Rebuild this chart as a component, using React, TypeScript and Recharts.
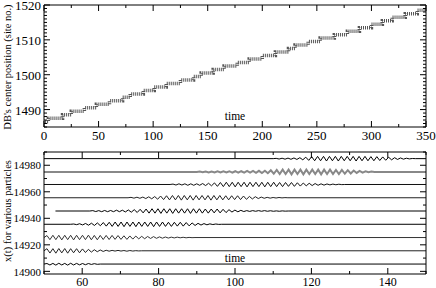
import React from 'react';
import { LineChart, Line, XAxis, YAxis } from 'recharts';

// top panel: DB centre, one plateau per site (the hatched band sits between n and n+1)
const dbStepTimes = [1, 4, 17, 25, 37, 48, 60, 72, 79, 91, 101, 112, 125, 137, 144, 155, 165, 177, 188, 200, 212, 224, 230, 242, 253, 266, 278, 289, 300, 310, 319, 331, 342, 350];
const dbSites = [1486.5, 1487.5, 1488.5, 1489.5, 1490.5, 1491.5, 1492.5, 1493.5, 1494.5, 1495.5, 1496.5, 1497.5, 1498.5, 1499.5, 1500.5, 1501.5, 1502.5, 1503.5, 1504.5, 1505.5, 1506.5, 1507.5, 1508.5, 1509.5, 1510.5, 1511.5, 1512.5, 1513.5, 1514.5, 1515.5, 1516.5, 1517.5, 1518.5, 1518.5];

const topXTicks = [0, 25, 50, 75, 100, 125, 150, 175, 200, 225, 250, 275, 300, 325, 350];
const topYTicks = [1485, 1486, 1487, 1488, 1489, 1490, 1491, 1492, 1493, 1494, 1495, 1496, 1497, 1498, 1499, 1500, 1501, 1502, 1503, 1504, 1505, 1506, 1507, 1508, 1509, 1510, 1511, 1512, 1513, 1514, 1515, 1516, 1517, 1518, 1519, 1520];

// bottom panel: rest positions of the particles and the oscillation packets
const particleBase = [14905.5, 14915.5, 14925.5, 14935.5, 14945.5, 14955.5, 14965.5, 14975, 14985];
const traceFrom = [50, 50, 50, 50, 53, 50, 50, 50, 50];
const traceTo = [150, 150, 150, 150, 150, 150, 150, 150, 150];
const packetStart = [50, 50, 50, 57, 62, 72, 83, 90, 110];
const halfPeriod = 0.775;

const amp1 = [0.4, 0.7, 0.5, 0.8, 0.6, 0.7, 0.5, 0.8, 0.6, 0.7, 0.5, 0.6, 0.4, 0.5, 0.4, 0.3, 0.3, 0.2];
const amp2 = [1.6, 1.7, 1.6, 1.8, 1.7, 1.6, 1.7, 1.8, 1.6, 1.5, 1.6, 1.5, 1.4, 1.3, 1.1, 1.0, 0.8, 0.7, 0.6, 0.5, 0.4, 0.3, 0.3, 0.2, 0.3, 0.2, 0.2, 0.3, 0.2, 0.2, 0.1, 0.1];
const amp3 = [1.5, 1.6, 1.7, 1.6, 1.7, 1.8, 1.7, 1.6, 1.7, 1.8, 1.7, 1.6, 1.7, 1.6, 1.8, 1.7, 1.6, 1.7, 1.6, 1.5, 1.6, 1.5, 1.6, 1.4, 1.5, 1.4, 1.3, 1.4, 1.2, 1.2,
  1.1, 1.0, 0.9, 0.9, 0.8, 0.7, 0.7, 0.6, 0.5, 0.5, 0.4, 0.4, 0.3, 0.3, 0.3, 0.2, 0.2, 0.2, 0.1, 0.1];
const amp4 = [0.2, 0.3, 0.4, 0.5, 0.6, 0.7, 0.8, 0.9, 1.0, 1.1, 1.3, 1.4,
  1.5, 1.6, 1.7, 1.6, 1.7, 1.8, 1.7, 1.6, 1.7, 1.8, 1.7, 1.6, 1.7, 1.6, 1.7, 1.8, 1.7, 1.6, 1.7, 1.6, 1.5, 1.6, 1.5, 1.4, 1.5, 1.4, 1.3, 1.2,
  1.0, 0.9, 0.7, 0.6, 0.5, 0.4, 0.3, 0.2, 0.2, 0.1];
const amp5 = [0.3, 0.4, 0.3, 0.5, 0.4, 0.5, 0.4, 0.5, 0.6, 0.5, 0.6, 0.7, 0.8, 0.9, 1.0, 1.1, 1.3, 1.4,
  1.5, 1.6, 1.7, 1.6, 1.7, 1.8, 1.7, 1.6, 1.7, 1.8, 1.7, 1.6, 1.7, 1.6, 1.7, 1.8, 1.7, 1.6, 1.7, 1.6, 1.5, 1.6, 1.5, 1.4, 1.5, 1.4, 1.3, 1.2,
  1.0, 0.8, 0.7, 0.6, 0.5, 0.4, 0.3, 0.3, 0.3, 0.2, 0.3, 0.2, 0.3, 0.2, 0.2, 0.2, 0.1, 0.2, 0.1, 0.1];
const amp6 = [0.3, 0.3, 0.4, 0.4, 0.5, 0.6, 0.7, 0.8, 0.9, 1.1,
  1.3, 1.4, 1.5, 1.6, 1.7, 1.6, 1.7, 1.8, 1.7, 1.6, 1.7, 1.8, 1.7, 1.6, 1.7, 1.6, 1.7, 1.8, 1.7, 1.6, 1.7, 1.6, 1.5, 1.6, 1.5, 1.4, 1.5, 1.4, 1.3, 1.2,
  1.0, 0.9, 0.8, 0.6, 0.5, 0.4, 0.3, 0.3, 0.2, 0.2, 0.2, 0.1, 0.1];
const amp7 = [0.3, 0.4, 0.5, 0.4, 0.5, 0.6, 0.5, 0.6, 0.5, 0.6, 0.7, 0.8, 0.9, 1.0, 1.2, 1.4,
  1.5, 1.6, 1.7, 1.6, 1.7, 1.8, 1.7, 1.6, 1.7, 1.8, 1.7, 1.6, 1.7, 1.6, 1.7, 1.8, 1.7, 1.6, 1.7, 1.6, 1.5, 1.6, 1.5, 1.4, 1.5, 1.4, 1.3, 1.2,
  1.1, 1.0, 0.9, 0.8, 0.7, 0.6, 0.5, 0.5, 0.4, 0.3, 0.3, 0.2, 0.2, 0.1];
const amp8 = [0.2, 0.3, 0.3, 0.4, 0.3, 0.4, 0.5, 0.4, 0.5, 0.4, 0.5, 0.6, 0.5, 0.6, 0.5, 0.6, 0.7, 0.6, 0.7, 0.7, 0.8, 0.8, 0.9, 1.0, 1.2, 1.4,
  1.5, 1.6, 1.7, 1.6, 1.7, 1.8, 1.7, 1.6, 1.7, 1.8, 1.7, 1.6, 1.7, 1.6, 1.7, 1.8, 1.7, 1.6, 1.7, 1.6, 1.5, 1.6, 1.5, 1.4, 1.3, 1.2,
  1.0, 0.8, 0.7, 0.5, 0.4, 0.3, 0.2, 0.1];
const amp9 = [0.2, 0.3, 0.3, 0.4, 0.4, 0.5, 0.5, 0.6, 0.7, 0.9,
  1.1, 1.3, 1.5, 1.6, 1.7, 1.6, 1.7, 1.8, 1.7, 1.6, 1.7, 1.8, 1.7, 1.6, 1.7, 1.6, 1.7, 1.8, 1.7, 1.6, 1.7, 1.6, 1.5, 1.6, 1.5, 1.4, 1.3,
  1.2, 1.0, 0.9, 0.7, 0.6, 0.5, 0.4, 0.3, 0.2, 0.1];
const particleAmps = [amp1, amp2, amp3, amp4, amp5, amp6, amp7, amp8, amp9];
const particleColor = ['#000', '#222', '#333', '#000', '#000', '#222', '#111', '#888', '#000'];

const botXTicks = [50, 60, 70, 80, 90, 100, 110, 120, 130, 140, 150];
const botYTicks = [14900, 14910, 14920, 14930, 14940, 14950, 14960, 14970, 14980, 14990];

const FONT = "'Liberation Serif', 'Times New Roman', serif";

const dbData = dbStepTimes.map((t, i) => ({ t, pos: dbSites[i] }));

const particleSeries = (k: number) => {
  const base = particleBase[k];
  const t0 = packetStart[k];
  const amps = particleAmps[k];
  const pts = [{ t: traceFrom[k], y: base }, { t: t0, y: base }];
  amps.forEach((a, i) => pts.push({ t: t0 + (i + 1) * halfPeriod, y: base + (i % 2 === 0 ? a : -a) }));
  pts.push({ t: t0 + (amps.length + 1) * halfPeriod, y: base });
  pts.push({ t: traceTo[k], y: base });
  return pts;
};

type Side = 'bottom' | 'top' | 'left' | 'right';

// inward ticks, grace style; labels only on bottom/left
const makeTick = (side: Side, every: number, labelled: boolean, fontSize: number) => (props: any) => {
  const { x, y, payload } = props;
  const v = payload.value;
  const major = Math.abs(v / every - Math.round(v / every)) < 1e-6;
  const len = major ? 6 : 3;
  let x2 = x, y2 = y;
  if (side === 'bottom') y2 = y - len;
  if (side === 'top') y2 = y + len;
  if (side === 'left') x2 = x + len;
  if (side === 'right') x2 = x - len;
  return (
    <g>
      <line x1={x} y1={y} x2={x2} y2={y2} stroke="#000" strokeWidth={1} />
      {labelled && major && side === 'bottom' && (
        <text x={x} y={y + fontSize} textAnchor="middle" fontSize={fontSize} fontFamily={FONT} fill="#000">{v}</text>
      )}
      {labelled && major && side === 'left' && (
        <text x={x - 3} y={y + fontSize * 0.38} textAnchor="end" fontSize={fontSize} fontFamily={FONT} fill="#000">{v}</text>
      )}
    </g>
  );
};

const axisCommon = { tickSize: 0, tickMargin: 0, tickLine: false, interval: 0 as const, allowDataOverflow: true, axisLine: { stroke: '#000', strokeWidth: 1 } };

export default function App() {
  return (
    <div style={{ position: 'absolute', left: 0, top: 0, width: 436, height: 288, background: '#fff' }}>
      <LineChart width={436} height={144} data={dbData} margin={{ top: 0, right: 0, bottom: 0, left: 0 }}>
        <XAxis xAxisId="b" dataKey="t" type="number" domain={[0, 350]} ticks={topXTicks} height={17} {...axisCommon} tick={makeTick('bottom', 50, true, 13)} />
        <XAxis xAxisId="t" orientation="top" dataKey="t" type="number" domain={[0, 350]} ticks={topXTicks} height={5} {...axisCommon} tick={makeTick('top', 50, false, 13)} />
        <YAxis yAxisId="l" type="number" domain={[1485, 1520]} ticks={topYTicks} width={44} {...axisCommon} tick={makeTick('left', 10, true, 13)} />
        <YAxis yAxisId="r" orientation="right" type="number" domain={[1485, 1520]} ticks={topYTicks} width={10} {...axisCommon} tick={makeTick('right', 10, false, 13)} />
        <Line xAxisId="b" yAxisId="l" type="stepAfter" dataKey="pos" stroke="#555" strokeWidth={3.5} strokeDasharray="1 1" dot={false} isAnimationActive={false} />
      </LineChart>
      <LineChart width={436} height={144} margin={{ top: 0, right: 0, bottom: 0, left: 0 }}>
        <XAxis xAxisId="b" dataKey="t" type="number" domain={[50, 150]} ticks={botXTicks} height={14} {...axisCommon} tick={makeTick('bottom', 20, true, 12)} />
        <XAxis xAxisId="t" orientation="top" dataKey="t" type="number" domain={[50, 150]} ticks={botXTicks} height={8} {...axisCommon} tick={makeTick('top', 20, false, 12)} />
        <YAxis yAxisId="l" type="number" domain={[14898, 14990]} ticks={botYTicks} width={44} {...axisCommon} tick={makeTick('left', 20, true, 11)} />
        <YAxis yAxisId="r" orientation="right" type="number" domain={[14898, 14990]} ticks={botYTicks} width={10} {...axisCommon} tick={makeTick('right', 20, false, 11)} />
        {particleBase.map((_, k) => (
          <Line key={k} xAxisId="b" yAxisId="l" data={particleSeries(k)} type="linear" dataKey="y" stroke={particleColor[k]} strokeWidth={k === 7 ? 2 : 1} dot={false} isAnimationActive={false} />
        ))}
      </LineChart>
      <svg width={436} height={288} style={{ position: 'absolute', left: 0, top: 0, pointerEvents: 'none' }}>
        <text x={235} y={120} textAnchor="middle" fontSize={11.5} fontFamily={FONT}>time</text>
        <text x={235} y={262} textAnchor="middle" fontSize={11.5} fontFamily={FONT}>time</text>
        <text transform="translate(11,67) rotate(-90)" textAnchor="middle" fontSize={10.5} fontFamily={FONT}>DB's center position (site no.)</text>
        <text transform="translate(11,211) rotate(-90)" textAnchor="middle" fontSize={10.5} fontFamily={FONT}>x(t) for various particles</text>
      </svg>
    </div>
  );
}
